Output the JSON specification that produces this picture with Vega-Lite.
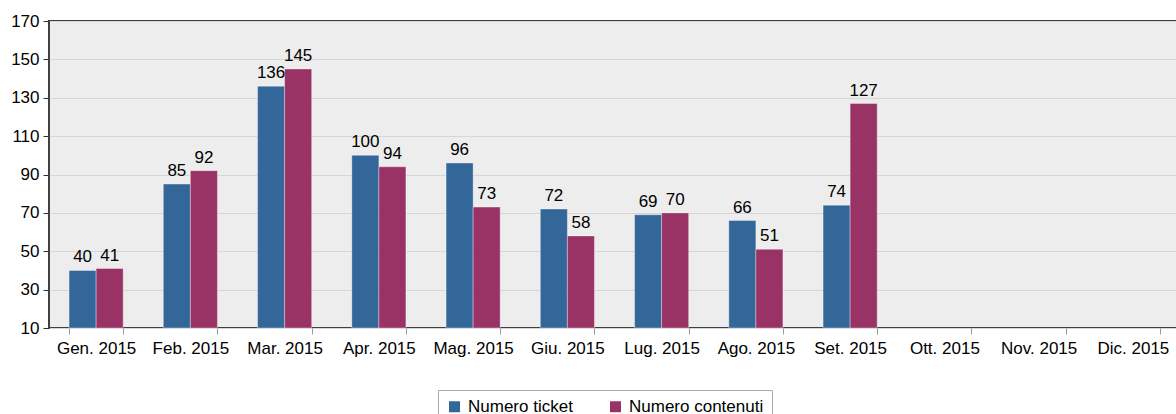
{
  "$schema": "https://vega.github.io/schema/vega-lite/v6.json",
  "width": 1131,
  "height": 307,
  "autosize": "none",
  "padding": {"left": 49, "top": 21, "right": 0, "bottom": 86},
  "background": "white",
  "config": {
    "font": "Liberation Sans",
    "view": {"fill": "#ededed", "stroke": "#404040", "strokeWidth": 2}
  },
  "data": {
    "values": [
      {"mese": "Gen. 2015", "serie": "Numero ticket", "valore": 40},
      {"mese": "Gen. 2015", "serie": "Numero contenuti", "valore": 41},
      {"mese": "Feb. 2015", "serie": "Numero ticket", "valore": 85},
      {"mese": "Feb. 2015", "serie": "Numero contenuti", "valore": 92},
      {"mese": "Mar. 2015", "serie": "Numero ticket", "valore": 136},
      {"mese": "Mar. 2015", "serie": "Numero contenuti", "valore": 145},
      {"mese": "Apr. 2015", "serie": "Numero ticket", "valore": 100},
      {"mese": "Apr. 2015", "serie": "Numero contenuti", "valore": 94},
      {"mese": "Mag. 2015", "serie": "Numero ticket", "valore": 96},
      {"mese": "Mag. 2015", "serie": "Numero contenuti", "valore": 73},
      {"mese": "Giu. 2015", "serie": "Numero ticket", "valore": 72},
      {"mese": "Giu. 2015", "serie": "Numero contenuti", "valore": 58},
      {"mese": "Lug. 2015", "serie": "Numero ticket", "valore": 69},
      {"mese": "Lug. 2015", "serie": "Numero contenuti", "valore": 70},
      {"mese": "Ago. 2015", "serie": "Numero ticket", "valore": 66},
      {"mese": "Ago. 2015", "serie": "Numero contenuti", "valore": 51},
      {"mese": "Set. 2015", "serie": "Numero ticket", "valore": 74},
      {"mese": "Set. 2015", "serie": "Numero contenuti", "valore": 127}
    ]
  },
  "encoding": {
    "x": {
      "field": "mese",
      "type": "nominal",
      "title": null,
      "scale": {
        "domain": ["Gen. 2015", "Feb. 2015", "Mar. 2015", "Apr. 2015", "Mag. 2015", "Giu. 2015", "Lug. 2015", "Ago. 2015", "Set. 2015", "Ott. 2015", "Nov. 2015", "Dic. 2015"],
        "paddingInner": 0.426,
        "paddingOuter": 0.213
      },
      "axis": {
        "domain": false,
        "grid": false,
        "labelAngle": 0,
        "labelFontSize": 17,
        "labelColor": "#000000",
        "labelPadding": 6,
        "tickBand": "extent",
        "tickColor": "#999999",
        "tickSize": 6
      }
    },
    "xOffset": {
      "field": "serie",
      "type": "nominal",
      "sort": ["Numero ticket", "Numero contenuti"],
      "scale": {"paddingInner": 0, "paddingOuter": 0}
    },
    "y": {
      "field": "valore",
      "type": "quantitative",
      "title": null,
      "scale": {"domain": [10, 170], "zero": false, "nice": false},
      "axis": {
        "values": [10, 30, 50, 70, 90, 110, 130, 150, 170],
        "domain": false,
        "grid": true,
        "gridColor": "#d6d6d6",
        "labelFontSize": 17,
        "labelColor": "#000000",
        "labelPadding": 4,
        "tickColor": "#333333",
        "tickSize": 6
      }
    }
  },
  "layer": [
    {
      "mark": {"type": "bar", "stroke": "#ffffff", "strokeWidth": 1, "strokeOpacity": 0.35},
      "encoding": {
        "y2": {"datum": 10},
        "color": {
          "field": "serie",
          "type": "nominal",
          "sort": ["Numero ticket", "Numero contenuti"],
          "scale": {"domain": ["Numero ticket", "Numero contenuti"], "range": ["#336699", "#993366"]},
          "legend": {
            "title": null,
            "orient": "none",
            "legendX": 389,
            "legendY": 369,
            "direction": "horizontal",
            "padding": 8,
            "strokeColor": "#aaaaaa",
            "fillColor": "#ffffff",
            "symbolType": "square",
            "symbolSize": 121,
            "symbolStrokeWidth": 0,
            "labelFontSize": 17,
            "labelColor": "#000000",
            "labelOffset": 5,
            "columnPadding": 34
          }
        }
      }
    },
    {
      "mark": {"type": "text", "baseline": "bottom", "dy": -4, "fontSize": 17, "color": "#000000"},
      "encoding": {
        "text": {"field": "valore", "type": "quantitative"}
      }
    }
  ]
}
